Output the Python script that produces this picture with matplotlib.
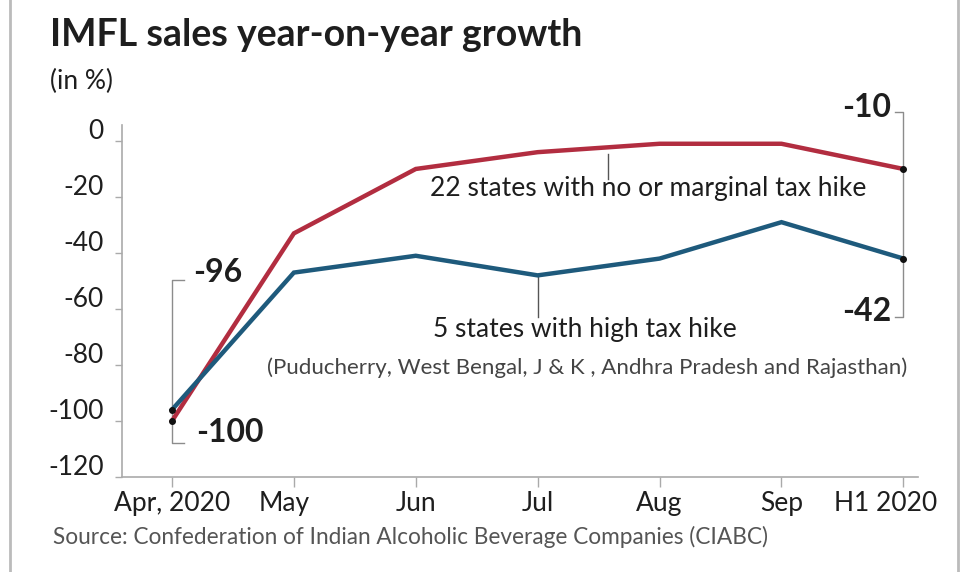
import matplotlib.pyplot as plt
import matplotlib.lines as mlines
import matplotlib.transforms as mtransforms

months = ['Apr, 2020', 'May', 'Jun', 'Jul', 'Aug', 'Sep', 'H1 2020']
low_tax = [-100, -33, -10, -4, -1, -1, -10]
high_tax = [-96, -47, -41, -48, -42, -29, -42]
yticks = [0, -20, -40, -60, -80, -100, -120]

red = '#b22d40'
blue = '#1e5a7c'
grey = '#8c8c8c'
ink = '#1e1e1e'

plt.rcParams['font.family'] = ['Lato', 'DejaVu Sans']

fig = plt.figure(figsize=(9.66, 5.72), dpi=100, facecolor='white')
ax = fig.add_axes([122 / 966, 1 - 477 / 572, (918 - 122) / 966, (477 - 125) / 572])

x = list(range(len(months)))
ax.plot(x, low_tax, color=red, lw=3.2, solid_joinstyle='miter', zorder=3)
ax.plot(x, high_tax, color=blue, lw=3.2, solid_joinstyle='miter', zorder=3)
for s in (low_tax, high_tax):
    ax.plot([x[0], x[-1]], [s[0], s[-1]], 'o', color='#111111', ms=4, zorder=4)

ax.set_xlim(-0.41, 6.12)
ax.set_ylim(-120, 5.7)
ax.set_xticks(x)
ax.set_xticklabels(months, fontsize=19, color=ink)
ax.set_yticks(yticks)
ax.set_yticklabels([str(v) for v in yticks], fontsize=19, color=ink)
ax.tick_params(axis='x', length=7, width=1, color='#aaaaaa', pad=3)
ax.tick_params(axis='y', length=5, width=1, color='#aaaaaa', pad=8)
for sp in ['top', 'right']:
    ax.spines[sp].set_visible(False)
for sp in ['left', 'bottom']:
    ax.spines[sp].set_color('#aaaaaa')
    ax.spines[sp].set_linewidth(1.2)

# y labels sit a little above their ticks
up = mtransforms.ScaledTranslation(0, 0.12, fig.dpi_scale_trans)
for lab in ax.get_yticklabels():
    lab.set_transform(lab.get_transform() + up)
xlabs = ax.get_xticklabels()
xlabs[1].set_transform(xlabs[1].get_transform() + mtransforms.ScaledTranslation(-0.1, 0, fig.dpi_scale_trans))
xlabs[-1].set_transform(xlabs[-1].get_transform() + mtransforms.ScaledTranslation(-0.18, 0, fig.dpi_scale_trans))

# series labels with leader lines
ax.plot([3.58, 3.58], [low_tax[3] - 0.5, -13.5], color='#555555', lw=1)
ax.text(2.12, -16.8, '22 states with no or marginal tax hike', fontsize=19, color=ink, va='center')
ax.plot([3.0, 3.0], [high_tax[3], -63], color='#555555', lw=1)
ax.text(2.14, -67.5, '5 states with high tax hike', fontsize=19, color=ink, va='center')
ax.text(0.78, -81, '(Puducherry, West Bengal, J & K , Andhra Pradesh and Rajasthan)',
        fontsize=16, color='#444444', va='center')

# brackets for end values
ax.plot([0.1, 0, 0, 0.1], [-49.6, -49.6, -108, -108], color=grey, lw=1, clip_on=False)
ax.text(0.17, -47, '-96', fontsize=23, fontweight='bold', color=ink, va='center')
ax.text(0.2, -104, '-100', fontsize=23, fontweight='bold', color=ink, va='center')
ax.plot([5.93, 6, 6, 5.93], [10.4, 10.4, -63, -63], color=grey, lw=1, clip_on=False)
ax.text(5.9, 11.8, '-10', fontsize=23, fontweight='bold', color=ink, va='center', ha='right')
ax.text(5.9, -61, '-42', fontsize=23, fontweight='bold', color=ink, va='center', ha='right')

fig.text(50 / 966, 1 - 35 / 572, 'IMFL sales year-on-year growth', fontsize=27,
         fontweight='bold', color=ink, va='center')
fig.text(50 / 966, 1 - 81 / 572, '(in %)', fontsize=19, color=ink, va='center')
fig.text(53 / 966, 1 - 537 / 572, 'Source: Confederation of Indian Alcoholic Beverage Companies (CIABC)',
         fontsize=16.3, color='#555555', va='center')

# frame lines at the picture edges
fig.add_artist(mlines.Line2D([10 / 966, 10 / 966], [0, 1], color='#bbbbbb', lw=2))
fig.add_artist(mlines.Line2D([958 / 966, 958 / 966], [0, 1], color='#bbbbbb', lw=2))

fig.savefig('out.png', dpi=100, facecolor='white')
